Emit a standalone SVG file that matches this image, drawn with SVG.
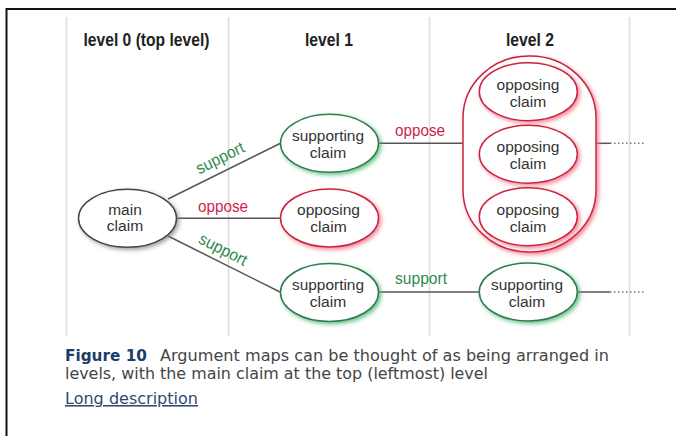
<svg xmlns="http://www.w3.org/2000/svg" width="676" height="436" viewBox="0 0 676 436">
<defs>
<style>
.grid{stroke:#dcdcdc;stroke-width:1.6;fill:none}
.hdr{font-family:"Liberation Sans",Arial,sans-serif;font-weight:bold;font-size:17.5px;fill:#222;text-anchor:middle}
.nt{font-family:"Liberation Sans",Arial,sans-serif;font-size:15.5px;fill:#333;text-anchor:middle}
.conn{stroke:#555;stroke-width:1.5;fill:none}
.dots{stroke:#777;stroke-width:1.5;fill:none;stroke-dasharray:1.5 2.5}
.lbl{font-family:"Liberation Sans",Arial,sans-serif;font-size:16.5px;text-anchor:middle}
.sup{fill:#2f8a4f}
.opp{fill:#cf1f4a}
.eg{fill:#fff;stroke:#2f7d4d;stroke-width:1.5}
.er{fill:#fff;stroke:#c9243f;stroke-width:1.5}
.ek{fill:#fff;stroke:#444;stroke-width:1.5}
.cap{font-family:"DejaVu Sans",Verdana,sans-serif;font-size:15.5px;fill:#454545}
</style>
<filter id="glowG" x="-30%" y="-30%" width="160%" height="160%">
<feGaussianBlur in="SourceAlpha" stdDeviation="2.2"/>
<feOffset dx="2" dy="1.5" result="o"/>
<feFlood flood-color="#4fb574" flood-opacity="0.85"/>
<feComposite in2="o" operator="in" result="s"/>
<feMerge><feMergeNode in="s"/><feMergeNode in="SourceGraphic"/></feMerge>
</filter>
<filter id="glowR" x="-30%" y="-30%" width="160%" height="160%">
<feGaussianBlur in="SourceAlpha" stdDeviation="2.2"/>
<feOffset dx="2" dy="1.5" result="o"/>
<feFlood flood-color="#f06f84" flood-opacity="0.85"/>
<feComposite in2="o" operator="in" result="s"/>
<feMerge><feMergeNode in="s"/><feMergeNode in="SourceGraphic"/></feMerge>
</filter>
<filter id="glowK" x="-30%" y="-30%" width="160%" height="160%">
<feGaussianBlur in="SourceAlpha" stdDeviation="2.2"/>
<feOffset dx="2" dy="1.5" result="o"/>
<feFlood flood-color="#808080" flood-opacity="0.75"/>
<feComposite in2="o" operator="in" result="s"/>
<feMerge><feMergeNode in="s"/><feMergeNode in="SourceGraphic"/></feMerge>
</filter>
</defs>
<rect width="676" height="436" fill="#fff"/>
<g id="frame" stroke="#111" stroke-width="2" fill="none">
<path d="M676 9 H6.5 V436"/>
</g>
<g id="levels">
<line class="grid" x1="66.5" y1="17" x2="66.5" y2="336"/>
<line class="grid" x1="228.5" y1="17" x2="228.5" y2="336"/>
<line class="grid" x1="429.5" y1="17" x2="429.5" y2="336"/>
<line class="grid" x1="629.5" y1="17" x2="629.5" y2="336"/>
<text class="hdr" x="146.5" y="46" textLength="126" lengthAdjust="spacingAndGlyphs">level 0 (top level)</text>
<text class="hdr" x="329" y="46" textLength="48" lengthAdjust="spacingAndGlyphs">level 1</text>
<text class="hdr" x="530" y="46" textLength="48" lengthAdjust="spacingAndGlyphs">level 2</text>
</g>
<g id="connectors">
<line class="conn" x1="168" y1="199" x2="281" y2="143"/>
<line class="conn" x1="177" y1="218.3" x2="281" y2="218.3"/>
<line class="conn" x1="168" y1="236" x2="281" y2="292.5"/>
<line class="conn" x1="378" y1="143.3" x2="463" y2="143.3"/>
<line class="conn" x1="378" y1="292" x2="479.5" y2="292"/>
<line class="conn" x1="596" y1="143.3" x2="610" y2="143.3"/>
<line class="dots" x1="610" y1="143.3" x2="646" y2="143.3"/>
<line class="conn" x1="577" y1="292" x2="610" y2="292"/>
<line class="dots" x1="610" y1="292" x2="646" y2="292"/>
<text class="lbl sup" x="222.6" y="162.8" transform="rotate(-26.5 222.6 162.8)" textLength="52" lengthAdjust="spacingAndGlyphs">support</text>
<text class="lbl opp" x="223" y="211.7" textLength="50" lengthAdjust="spacingAndGlyphs">oppose</text>
<text class="lbl sup" x="220.7" y="254.4" transform="rotate(26.9 220.7 254.4)" textLength="52" lengthAdjust="spacingAndGlyphs">support</text>
<text class="lbl opp" x="420" y="136" textLength="50" lengthAdjust="spacingAndGlyphs">oppose</text>
<text class="lbl sup" x="421" y="284.3" textLength="52" lengthAdjust="spacingAndGlyphs">support</text>
</g>
<g id="main-claim">
<ellipse class="ek" cx="127.5" cy="218.3" rx="49" ry="29" filter="url(#glowK)"/>
<text class="nt" x="125" y="214.5" textLength="33.5" lengthAdjust="spacingAndGlyphs">main</text>
<text class="nt" x="125" y="231" textLength="36.5" lengthAdjust="spacingAndGlyphs">claim</text>
</g>
<g id="supporting-claim-1a">
<ellipse class="eg" cx="329.5" cy="143.3" rx="49" ry="29" filter="url(#glowG)"/>
<text class="nt" x="328" y="140.5" textLength="72" lengthAdjust="spacingAndGlyphs">supporting</text>
<text class="nt" x="328" y="157.5" textLength="36.5" lengthAdjust="spacingAndGlyphs">claim</text>
</g>
<g id="opposing-claim-1">
<ellipse class="er" cx="329.5" cy="218" rx="49" ry="29" filter="url(#glowR)"/>
<text class="nt" x="328.5" y="214.5" textLength="63" lengthAdjust="spacingAndGlyphs">opposing</text>
<text class="nt" x="328.5" y="231.5" textLength="36.5" lengthAdjust="spacingAndGlyphs">claim</text>
</g>
<g id="supporting-claim-1b">
<ellipse class="eg" cx="329.5" cy="292.5" rx="49" ry="29" filter="url(#glowG)"/>
<text class="nt" x="328" y="289.5" textLength="72" lengthAdjust="spacingAndGlyphs">supporting</text>
<text class="nt" x="328" y="306.5" textLength="36.5" lengthAdjust="spacingAndGlyphs">claim</text>
</g>
<g id="opposing-group-2">
<rect x="463" y="56" width="133" height="196" rx="66" ry="62" fill="#fff" stroke="#c9243f" stroke-width="1.5" filter="url(#glowR)"/>
<g id="opposing-claim-2a">
<ellipse class="er" cx="528.3" cy="91.7" rx="49" ry="29" filter="url(#glowR)"/>
<text class="nt" x="528" y="89.5" textLength="63" lengthAdjust="spacingAndGlyphs">opposing</text>
<text class="nt" x="528" y="106.5" textLength="36.5" lengthAdjust="spacingAndGlyphs">claim</text>
</g>
<g id="opposing-claim-2b">
<ellipse class="er" cx="528.3" cy="154.2" rx="49" ry="29" filter="url(#glowR)"/>
<text class="nt" x="528" y="152" textLength="63" lengthAdjust="spacingAndGlyphs">opposing</text>
<text class="nt" x="528" y="169" textLength="36.5" lengthAdjust="spacingAndGlyphs">claim</text>
</g>
<g id="opposing-claim-2c">
<ellipse class="er" cx="528.3" cy="216.7" rx="49" ry="29" filter="url(#glowR)"/>
<text class="nt" x="528" y="214.5" textLength="63" lengthAdjust="spacingAndGlyphs">opposing</text>
<text class="nt" x="528" y="231.5" textLength="36.5" lengthAdjust="spacingAndGlyphs">claim</text>
</g>
</g>
<g id="supporting-claim-2">
<ellipse class="eg" cx="528.3" cy="292" rx="49" ry="29" filter="url(#glowG)"/>
<text class="nt" x="527" y="289.5" textLength="72" lengthAdjust="spacingAndGlyphs">supporting</text>
<text class="nt" x="527" y="306.5" textLength="36.5" lengthAdjust="spacingAndGlyphs">claim</text>
</g>
<g id="caption">
<text class="cap" x="65" y="361" font-weight="bold" style="fill:#1d3c6a" textLength="82" lengthAdjust="spacingAndGlyphs">Figure 10</text>
<text class="cap" x="160" y="361" textLength="449" lengthAdjust="spacingAndGlyphs">Argument maps can be thought of as being arranged in</text>
<text class="cap" x="65" y="379" textLength="423" lengthAdjust="spacingAndGlyphs">levels, with the main claim at the top (leftmost) level</text>
<text class="cap" x="65" y="404" textLength="133" lengthAdjust="spacingAndGlyphs" text-decoration="underline" style="fill:#2f4a6e">Long description</text>
</g>
</svg>
